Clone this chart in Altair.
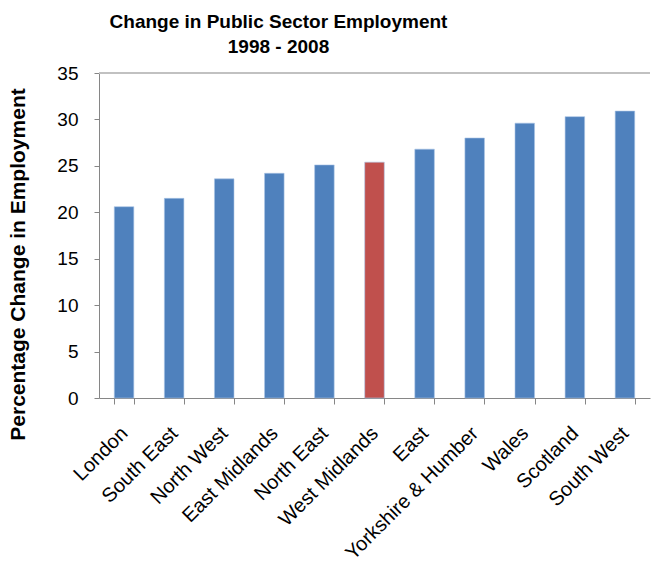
import altair as alt
import pandas as pd

regions = ["London", "South East", "North West", "East Midlands", "North East",
           "West Midlands", "East", "Yorkshire & Humber", "Wales", "Scotland", "South West"]
values = [20.6, 21.5, 23.6, 24.2, 25.1, 25.4, 26.8, 28.0, 29.6, 30.3, 30.9]
highlight = ["West Midlands"]

df = pd.DataFrame({"region": regions, "value": values})
df["hl"] = df["region"].isin(highlight).map({True: "yes", False: "no"})

FONT = "Liberation Sans"

bars = alt.Chart(df).mark_bar(stroke="#a9c4e6", strokeWidth=0.6).encode(
    x=alt.X("region:N", sort=regions, title=None,
            scale=alt.Scale(paddingInner=0.61, paddingOuter=0.305),
            axis=alt.Axis(labelAngle=-45, labelAlign="right", labelBaseline="middle",
                          labelFontSize=20, labelFont=FONT, labelColor="#000000",
                          labelPadding=26, tickBand="extent", tickSize=6,
                          tickColor="#868686", domainColor="#868686", labelLimit=400)),
    y=alt.Y("value:Q", title="Percentage Change in Employment",
            scale=alt.Scale(domain=[0, 35], nice=False),
            axis=alt.Axis(values=[0, 5, 10, 15, 20, 25, 30, 35], grid=False,
                          labelFontSize=19, labelFont=FONT, labelColor="#000000",
                          tickSize=5, labelPadding=16, tickColor="#868686",
                          domainColor="#868686", titleFont=FONT, titleFontSize=21,
                          titleFontWeight="bold", titleColor="#000000",
                          titleAngle=270, titleAlign="center", titleBaseline="middle",
                          titleX=-81, titleY=191)),
    color=alt.Color("hl:N", scale=alt.Scale(domain=["no", "yes"], range=["#4f81bd", "#c0504d"]),
                    legend=None),
)

top_line = alt.Chart(df).mark_rule(color="#c0c0c0", strokeWidth=1.5).encode(
    y=alt.datum(35)
)

chart = alt.layer(bars, top_line).properties(
    width=551, height=325,
    padding={"left": 99, "top": 73, "right": 7, "bottom": 169},
    autosize=alt.AutoSizeParams(type="none"),
    title=alt.Title(["Change in Public Sector Employment", "1998 - 2008"],
                    font=FONT, fontSize=19, fontWeight="bold", color="#000000",
                    anchor="middle", frame="group", dx=-96, offset=7, lineHeight=25),
).configure_view(stroke=None)

chart.save("out.html", embed_options={"renderer": "svg", "actions": False})
